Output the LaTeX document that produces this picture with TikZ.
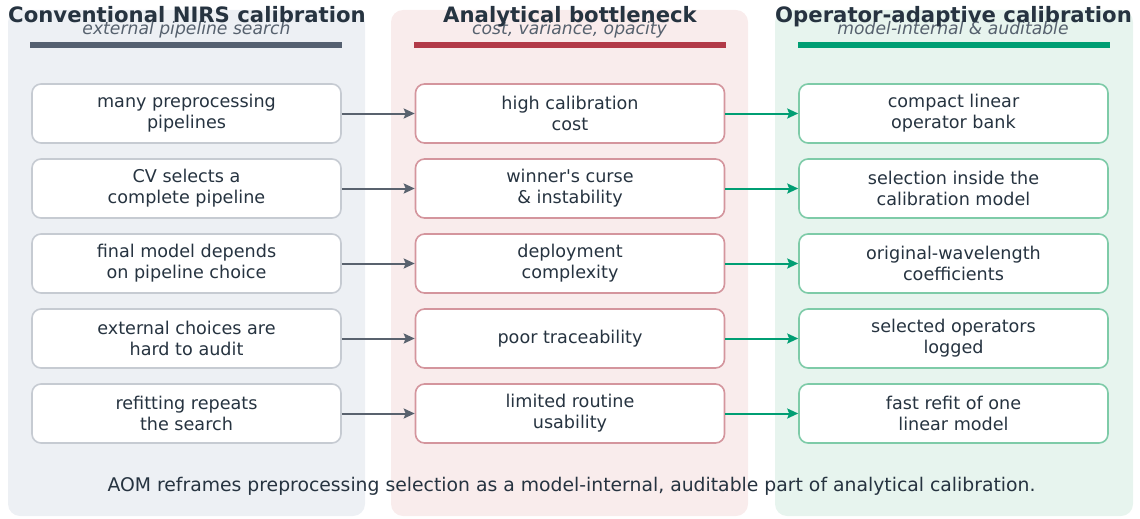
\documentclass[tikz,border=0pt]{standalone}
\usepackage{fontspec}
% family without the TeX quote mapping, so apostrophes stay straight
\newfontfamily\djv{DejaVu Sans}
\usetikzlibrary{arrows.meta}
\definecolor{ink}{HTML}{263340}
\definecolor{subink}{HTML}{56616E}
\definecolor{convfill}{HTML}{EDF0F4}
\definecolor{convbar}{HTML}{556070}
\definecolor{convedge}{HTML}{C6CBD2}
\definecolor{botfill}{HTML}{F9ECEC}
\definecolor{botbar}{HTML}{B23A48}
\definecolor{botedge}{HTML}{D4959D}
\definecolor{aomfill}{HTML}{E7F4EE}
\definecolor{aombar}{HTML}{009E73}
\definecolor{aomedge}{HTML}{7ECBA8}
\definecolor{grayarrow}{HTML}{59626E}
\tikzset{
  panel/.style={rounded corners=12pt, draw=none},
  bar/.style={line width=6pt},
  card/.style={draw, line width=1.6pt, fill=white, rounded corners=9pt,
    minimum width=309pt, minimum height=59pt, align=center, text=ink,
    font=\djv\fontsize{17.6}{21}\selectfont, inner sep=0pt},
  title/.style={text=ink, font=\djv\bfseries\fontsize{21.2}{24}\selectfont,
    inner sep=0pt, anchor=base},
  subtitle/.style={text=subink, font=\djv\itshape\fontsize{17.2}{20}\selectfont,
    inner sep=0pt, anchor=base},
  link/.style={line width=2pt, -{Stealth[length=11pt,width=10pt,inset=2pt]}},
}
\begin{document}
\begin{tikzpicture}[x=1pt,y=-1pt]
\useasboundingbox (0,0) rectangle (1140,519);
% column backgrounds
\fill[panel, convfill] (8,10) rectangle (365,516);
\fill[panel, botfill] (391,10) rectangle (748,516);
\fill[panel, aomfill] (775,10) rectangle (1133,516);
% header bars
\draw[bar, convbar] (30,45) -- (342,45);
\draw[bar, botbar] (414,45) -- (726,45);
\draw[bar, aombar] (798,45) -- (1110,45);
% headers
\node[subtitle] (s1) at (186.5,34.5) {external pipeline search};
\node[subtitle] (s2) at (569.5,34.5) {cost, variance, opacity};
\node[subtitle] (s3) at (953,34.5) {model-internal \& auditable};
\node[title] (t1) at (187,22.5) {Conventional NIRS calibration};
\node[title] (t2) at (570,22.5) {Analytical bottleneck};
\node[title] (t3) at (953.5,22.5) {Operator-adaptive calibration};
% conventional column
\node[card, draw=convedge] (a1) at (186.5,113.5) {many preprocessing\\pipelines};
\node[card, draw=convedge] (a2) at (186.5,188.5) {CV selects a\\complete pipeline};
\node[card, draw=convedge] (a3) at (186.5,263.5) {final model depends\\on pipeline choice};
\node[card, draw=convedge] (a4) at (186.5,338.5) {external choices are\\hard to audit};
\node[card, draw=convedge] (a5) at (186.5,413.5) {refitting repeats\\the search};
% bottleneck column
\node[card, draw=botedge] (b1) at (570,113.5) {high calibration\\cost};
\node[card, draw=botedge] (b2) at (570,188.5) {winner's curse\\\& instability};
\node[card, draw=botedge] (b3) at (570,263.5) {deployment\\complexity};
\node[card, draw=botedge] (b4) at (570,338.5) {poor traceability};
\node[card, draw=botedge] (b5) at (570,413.5) {limited routine\\usability};
% operator-adaptive column
\node[card, draw=aomedge] (c1) at (953.5,113.5) {compact linear\\operator bank};
\node[card, draw=aomedge] (c2) at (953.5,188.5) {selection inside the\\calibration model};
\node[card, draw=aomedge] (c3) at (953.5,263.5) {original-wavelength\\coefficients};
\node[card, draw=aomedge] (c4) at (953.5,338.5) {selected operators\\logged};
\node[card, draw=aomedge] (c5) at (953.5,413.5) {fast refit of one\\linear model};
% connectors
\foreach \i in {1,...,5} {
  \draw[link, grayarrow] (a\i.east) -- (b\i.west);
  \draw[link, aombar] (b\i.east) -- (c\i.west);
}
% footer
\node[text=ink, font=\djv\fontsize{18.8}{22}\selectfont, inner sep=0pt, anchor=base] (foot) at (571.5,491.5)
  {AOM reframes preprocessing selection as a model-internal, auditable part of analytical calibration.};
\end{tikzpicture}
\end{document}
